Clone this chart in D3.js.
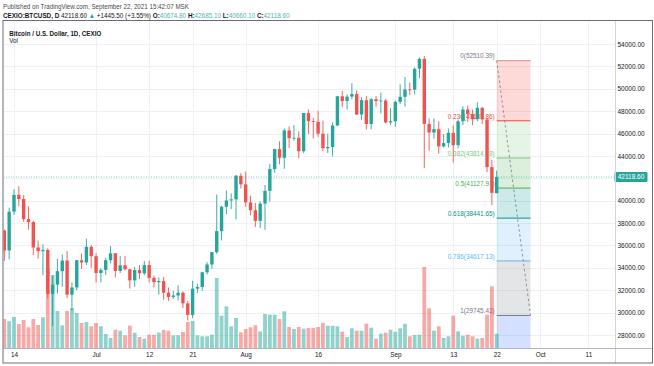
<!DOCTYPE html>
<html><head><meta charset="utf-8">
<script src="https://cdn.jsdelivr.net/npm/d3@7"></script>
<style>
html,body{margin:0;padding:0;background:#fff;}
svg{display:block;font-family:"Liberation Sans",Arial,sans-serif;}
</style></head><body>
<svg id="c" width="654" height="366"></svg>
<script>
// ---------- DATA ----------
const dates = [
"2021-06-12","2021-06-13","2021-06-14","2021-06-15","2021-06-16","2021-06-17","2021-06-18","2021-06-19","2021-06-20","2021-06-21","2021-06-22","2021-06-23","2021-06-24","2021-06-25","2021-06-26","2021-06-27","2021-06-28","2021-06-29","2021-06-30",
"2021-07-01","2021-07-02","2021-07-03","2021-07-04","2021-07-05","2021-07-06","2021-07-07","2021-07-08","2021-07-09","2021-07-10","2021-07-11","2021-07-12","2021-07-13","2021-07-14","2021-07-15","2021-07-16","2021-07-17","2021-07-18","2021-07-19","2021-07-20","2021-07-21","2021-07-22","2021-07-23","2021-07-24","2021-07-25","2021-07-26","2021-07-27","2021-07-28","2021-07-29","2021-07-30","2021-07-31",
"2021-08-01","2021-08-02","2021-08-03","2021-08-04","2021-08-05","2021-08-06","2021-08-07","2021-08-08","2021-08-09","2021-08-10","2021-08-11","2021-08-12","2021-08-13","2021-08-14","2021-08-15","2021-08-16","2021-08-17","2021-08-18","2021-08-19","2021-08-20","2021-08-21","2021-08-22","2021-08-23","2021-08-24","2021-08-25","2021-08-26","2021-08-27","2021-08-28","2021-08-29","2021-08-30","2021-08-31",
"2021-09-01","2021-09-02","2021-09-03","2021-09-04","2021-09-05","2021-09-06","2021-09-07","2021-09-08","2021-09-09","2021-09-10","2021-09-11","2021-09-12","2021-09-13","2021-09-14","2021-09-15","2021-09-16","2021-09-17","2021-09-18","2021-09-19","2021-09-20","2021-09-21","2021-09-22"];

const opens = [
37340,35550,39020,40520,40150,38350,38090,35820,35490,35600,31680,32500,33700,34650,31600,32250,34680,34480,35880,
35040,33540,33820,34680,35300,33720,34230,33870,32880,33800,33510,34250,33100,32720,32820,31780,31400,31530,31780,30830,29790,32140,32290,33600,34300,35400,37280,39460,40020,40120,42230,
41460,39850,39150,38200,39740,40880,42830,44610,43830,46280,45580,45620,44420,47830,47100,47050,45990,44690,44800,46720,49330,48900,49300,49530,47700,48980,46850,49070,48900,48950,46990,
47100,48830,49280,49940,49920,51790,52670,46860,46090,46390,44850,45150,46060,44960,47100,48150,47750,47280,48300,47260,43000,40674.8];

const highs = [
37440,39380,41000,41300,40500,39500,38200,36450,36100,35750,33300,34800,35200,35500,32700,34700,35280,36600,36050,
35300,33950,34900,35950,35300,35050,35050,33900,34100,34250,34600,34650,33300,33150,33200,32250,31950,32450,31900,31050,32850,32600,33650,34500,35400,40550,39550,40900,40650,42300,42450,
42600,40450,39800,39950,41400,43300,44650,45300,46450,46650,46750,46200,47850,48150,47400,48050,47150,46000,47000,49350,49800,49500,50500,49850,49250,49350,49150,49350,49650,49100,48250,
48950,50400,51050,50550,51900,52800,52920,47350,47350,47100,45950,46450,46750,47250,48450,48500,48150,48800,48350,47350,43650,42685.1];

const lows = [
34630,34770,38730,39500,38120,37400,35150,34820,33350,31280,28800,31700,32300,31300,30150,32000,33900,34250,34000,
32700,32700,33350,34400,33150,33550,33780,32150,32300,33000,33350,32700,32250,31600,31150,31050,31200,31100,30400,29300,29500,31750,31950,33400,33900,35250,36450,38800,39250,38320,41100,
39450,38700,37650,37550,37400,39900,42500,43250,42850,44700,45350,43800,44250,45950,45550,45700,44400,44250,43950,46650,48350,48150,49050,47650,47200,46350,46400,48400,47800,46900,46750,
46600,48650,48400,49450,49500,50950,42900,44450,45550,44200,44750,44750,43400,44700,46750,47050,46750,47100,46850,42550,39600,40660.1];

const closes = [
35550,39020,40520,40150,38350,38090,35820,35490,35600,31680,32500,33700,34650,31600,32250,34680,34480,35880,35040,
33540,33820,34680,35300,33720,34230,33870,32880,33800,33510,34250,33100,32720,32820,31780,31400,31530,31780,30830,29790,32140,32290,33600,34300,35400,37280,39460,40020,40120,42230,41460,
39850,39150,38200,39740,40880,42830,44610,43830,46280,45580,45620,44420,47830,47100,47050,45990,44690,44800,46720,49330,48900,49300,49530,47700,48980,46850,49070,48900,48950,46990,47100,
48830,49280,49940,49920,51790,52670,46860,46090,46390,44850,45150,46060,44960,47100,48150,47750,47280,48300,47260,43000,40700,42118.6];

const volumes = [
29,26.7,31,24,28,20.7,29,23,30.7,80,73,37,22.7,37,40,35,25,26,21.7,
25,21.7,14,10,18.3,17.3,12.7,22.3,15.3,11,9.3,13.3,13.3,15.3,18,17.3,12.7,12.7,16,26,27,12.6,11.7,11.7,13.3,70,32.3,41.7,21.7,30,15.7,
19,20.7,22.7,16.7,34,33.3,33.3,29,36.7,21,19,21,19.3,20,20,21,25,22.3,22.3,21.7,16.3,11,19.7,17.3,17.3,24.3,20.3,9.3,14.3,15.3,18.3,
16.3,19.7,24.3,11.7,13,13.3,81,39.7,17.3,21.7,10,11.7,32.3,16.7,12.3,13.3,11.7,9.3,10,33.3,61.7,14.3];

const priceTicks = [28000,30000,32000,34000,36000,38000,40000,42000,44000,46000,48000,50000,52000,54000];
const timeTickDates = ["2021-06-14","2021-07-01","2021-07-12","2021-07-21","2021-08-01","2021-08-16","2021-09-01","2021-09-13","2021-09-22","2021-10-01","2021-10-11"];
const timeTickLabels = ["14","Jul","12","21","Aug","16","Sep","13","22","Oct","11"];

const fibRatios = [0, 0.236, 0.382, 0.5, 0.618, 0.786, 1];
const fibPrices = [52510.39, 47137.86, 43814.18, 41127.91, 38441.65, 34617.13, 29745.43];
const fibColors = ["#787b86","#f44336","#81c784","#4caf50","#009688","#64b5f6","#787b86"];
const fibExtColor = "#2962ff";
const fibDates = ["2021-09-22","2021-09-29"];

const lastPrice = 42118.60;

// ---------- LAYOUT ----------
const svg = d3.select("#c");
const L = 3.5, R = 615, T = 21, B = 348;
const parse = s => new Date(s + "T00:00:00Z");
const x = d3.scaleUtc().domain([parse("2021-06-14"), parse("2021-09-22")]).range([14, 496.7]);
const y = d3.scaleLinear().domain([28000, 54000]).range([335, 44]);
const yv = d3.scaleLinear().domain([0, 100]).range([B, B - 100]);
const UP = "#26a69a", DN = "#ef5350";

// place text at (x0,y0) and compress horizontally to a target width (keeps glyph height)
function squeeze(sel, x0, y0, target) {
  const w = sel.node().getComputedTextLength();
  const s = w > 0 ? target / w : 1;
  sel.attr("x",0).attr("y",0).attr("transform",`translate(${x0},${y0}) scale(${s.toFixed(4)},1)`);
  return s;
}

svg.append("rect").attr("width",654).attr("height",366).attr("fill","#fff");

svg.append("defs").append("clipPath").attr("id","plot")
  .append("rect").attr("x",L).attr("y",T).attr("width",R-L).attr("height",B-T);

const gp = svg.append("g").attr("clip-path","url(#plot)");

// grid
gp.selectAll("line.hg").data(priceTicks).join("line")
  .attr("x1",L).attr("x2",R).attr("y1",d=>Math.round(y(d))+0.5).attr("y2",d=>Math.round(y(d))+0.5)
  .attr("stroke","#eef0f4").attr("stroke-width",1);
gp.selectAll("line.vg").data(timeTickDates).join("line")
  .attr("y1",T).attr("y2",B).attr("x1",d=>Math.round(x(parse(d)))+0.5).attr("x2",d=>Math.round(x(parse(d)))+0.5)
  .attr("stroke","#eef0f4").attr("stroke-width",1);

// fib backgrounds
const fx0 = x(parse(fibDates[0])), fx1 = x(parse(fibDates[1]));
const gf = gp.append("g");
for (let i = 1; i < fibPrices.length; i++) {
  gf.append("rect").attr("x",fx0).attr("width",fx1-fx0)
    .attr("y",y(fibPrices[i-1])).attr("height",y(fibPrices[i])-y(fibPrices[i-1]))
    .attr("fill",fibColors[i]).attr("fill-opacity",0.2);
}
gf.append("rect").attr("x",fx0).attr("width",fx1-fx0)
  .attr("y",y(fibPrices[fibPrices.length-1])).attr("height",B - y(fibPrices[fibPrices.length-1]))
  .attr("fill",fibExtColor).attr("fill-opacity",0.2);
fibPrices.forEach((p,i)=>{
  gf.append("line").attr("x1",fx0).attr("x2",fx1).attr("y1",y(p)).attr("y2",y(p))
    .attr("stroke", i===0 ? "#e08c8c" : fibColors[i]).attr("stroke-width",1);
  gf.append("text").attr("x",fx0-2).attr("y",y(p)-2.2).attr("text-anchor","end")
    .attr("font-size",6.4).attr("fill",fibColors[i])
    .text(fibRatios[i] + "(" + p.toFixed(2) + ")");
});
gf.append("line").attr("x1",fx0).attr("y1",y(fibPrices[0])).attr("x2",fx1).attr("y2",y(fibPrices[fibPrices.length-1]))
  .attr("stroke","#787b86").attr("stroke-width",0.8).attr("stroke-dasharray","2.5,2.5");

// volume
const vw = 3.8;
gp.selectAll("rect.vol").data(dates).join("rect")
  .attr("x",(d,i)=>x(parse(d))-vw/2).attr("width",vw)
  .attr("y",(d,i)=>yv(volumes[i])).attr("height",(d,i)=>B-yv(volumes[i]))
  .attr("fill",(d,i)=>closes[i]>=opens[i]?UP:DN).attr("fill-opacity",0.5);

// candles
const cw = 3.4;
const gc = gp.append("g");
gc.selectAll("line.w").data(dates).join("line")
  .attr("x1",d=>x(parse(d))).attr("x2",d=>x(parse(d)))
  .attr("y1",(d,i)=>y(highs[i])).attr("y2",(d,i)=>y(lows[i]))
  .attr("stroke",(d,i)=>closes[i]>=opens[i]?UP:DN).attr("stroke-width",0.9);
gc.selectAll("rect.b").data(dates).join("rect")
  .attr("x",d=>x(parse(d))-cw/2).attr("width",cw)
  .attr("y",(d,i)=>y(Math.max(opens[i],closes[i])))
  .attr("height",(d,i)=>Math.max(0.8, Math.abs(y(opens[i])-y(closes[i]))))
  .attr("fill",(d,i)=>closes[i]>=opens[i]?UP:DN);

// last price line
gp.append("line").attr("x1",L).attr("x2",R).attr("y1",y(lastPrice)).attr("y2",y(lastPrice))
  .attr("stroke",UP).attr("stroke-width",0.8).attr("stroke-dasharray","1,1.5").attr("opacity",0.7);

// ---------- AXES ----------
const shownTicks = priceTicks.filter(t => Math.abs(y(t) - y(lastPrice)) > 8);
const ya = svg.append("g").attr("transform",`translate(${R},0)`)
  .call(d3.axisRight(y).tickValues(shownTicks).tickFormat(d=>d.toFixed(2)).tickSize(0).tickPadding(2.5));
ya.select(".domain").remove();
ya.selectAll("text").attr("font-size",6.5).attr("fill","#131722").attr("font-family","Liberation Sans, Arial, sans-serif");

const xa = svg.append("g").attr("transform",`translate(0,${B})`)
  .call(d3.axisBottom(x).tickValues(timeTickDates.map(parse)).tickFormat((d,i)=>timeTickLabels[i]).tickSize(0).tickPadding(4.5));
xa.select(".domain").remove();
xa.selectAll("text").attr("font-size",6.4).attr("fill","#131722").attr("font-family","Liberation Sans, Arial, sans-serif");

// last price label
svg.append("rect").attr("x",R-0.5).attr("y",y(lastPrice)-5).attr("width",33).attr("height",10).attr("rx",1).attr("fill",UP);
svg.append("text").attr("x",R+16).attr("y",y(lastPrice)+2.3).attr("text-anchor","middle")
  .attr("font-size",6.5).attr("fill","#fff").text(lastPrice.toFixed(2));

// separators and frame
svg.append("line").attr("x1",R+0.5).attr("x2",R+0.5).attr("y1",T).attr("y2",363).attr("stroke","#d1d4dc");
svg.append("line").attr("x1",L).attr("x2",652).attr("y1",B+0.5).attr("y2",B+0.5).attr("stroke","#b2b5be");
svg.append("rect").attr("x",3).attr("y",20.5).attr("width",649.5).attr("height",342.5)
  .attr("fill","none").attr("stroke","#6a6d78").attr("stroke-width",1);

// ---------- HEADER ----------
const h1 = svg.append("text").attr("font-size",7.2).attr("fill","#4a4a4a")
  .text("Published on TradingView.com, September 22, 2021 15:42:07 MSK");
squeeze(h1, 3, 8.8, 186);

const hdr = [
  {t:"CEXIO:BTCUSD, D ", b:true, c:"#131722"},
  {t:"42118.60 ", b:false, c:"#131722"},
  {t:"▲", b:false, c:UP},
  {t:" +1445.50 (+3.55%) ", b:false, c:"#131722"},
  {t:"O:", b:true, c:"#131722"},
  {t:"40674.80 ", b:false, c:"#4db6ac"},
  {t:"H:", b:true, c:"#131722"},
  {t:"42685.10 ", b:false, c:"#4db6ac"},
  {t:"L:", b:true, c:"#131722"},
  {t:"40660.10 ", b:false, c:"#4db6ac"},
  {t:"C:", b:true, c:"#131722"},
  {t:"42118.60", b:false, c:"#4db6ac"}
];
const h2 = svg.append("text").attr("font-size",7.2);
h2.style("white-space","pre");
hdr.forEach(h=>{
  h2.append("tspan").attr("font-weight",h.b?"bold":"normal").attr("fill",h.c).text(h.t);
});
squeeze(h2, 3, 18.2, 287);

const t1 = svg.append("text").attr("font-size",7.2).attr("font-weight","bold").attr("fill","#131722")
  .text("Bitcoin / U.S. Dollar, 1D, CEXIO");
const ts = squeeze(t1, 9.3, 36.3, 92);
svg.append("text").attr("font-size",7.2).attr("fill","#131722").text("Vol")
  .attr("transform",`translate(9.3,42.9) scale(${ts.toFixed(4)},1)`);
</script>
</body></html>
